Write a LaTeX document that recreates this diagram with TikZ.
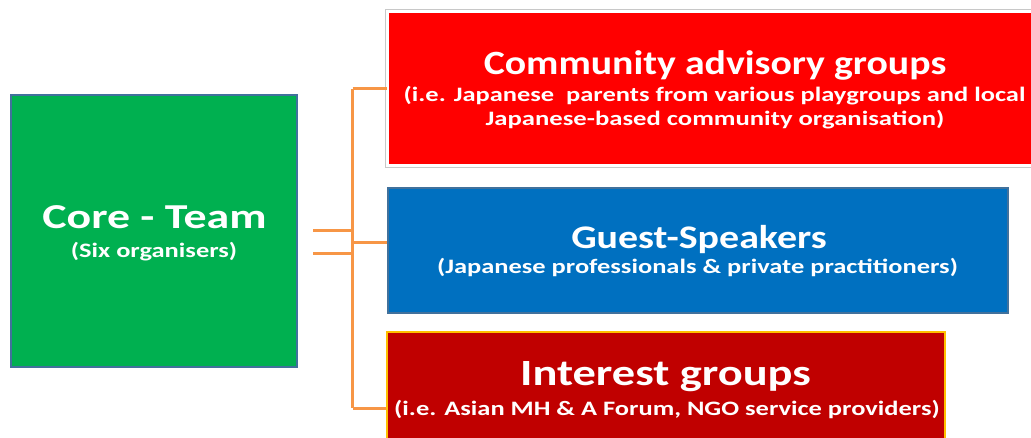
\documentclass[tikz,border=0pt]{standalone}
\usepackage{fontspec}
\setmainfont{Carlito}
\definecolor{coregreen}{HTML}{00B050}
\definecolor{slateedge}{HTML}{41719C}
\definecolor{advred}{HTML}{FF0000}
\definecolor{guestblue}{HTML}{0070C0}
\definecolor{intred}{HTML}{C00000}
\definecolor{intedge}{HTML}{FFC000}
\definecolor{linkorange}{HTML}{F79646}
\definecolor{outline}{HTML}{C8C8C8}
\tikzset{
  box/.style={rectangle, inner sep=0pt, line width=2pt},
  lbl/.style={inner sep=0pt, anchor=base, text=white, font=\bfseries},
  link/.style={draw=linkorange, line width=3pt}
}
\newcommand{\wtxt}[3]{\scalebox{#2}[1]{\fontsize{#1}{#1}\selectfont #3}}
\begin{document}
\begin{tikzpicture}[x=1pt,y=-1pt]
\useasboundingbox (0,0) rectangle (1031,438);
\fill[white] (0,0) rectangle (1031,438);
% core team
\node[box, fill=coregreen, draw=slateedge, minimum width=286pt, minimum height=272pt] (core) at (154,231) {};
\node[lbl] (coreA) at (154.5,228.8) {\wtxt{35}{1.31}{Core - Team}};
\node[lbl] (coreB) at (154,257.8) {\wtxt{20.5}{1.29}{(Six organisers)}};
% community advisory
\node[box, fill=advred, draw=white, line width=1.5pt, minimum width=652pt, minimum height=153pt] (adv) at (714,88.5) {};
\draw[outline, line width=0.8pt] ([xshift=-1.8pt,yshift=1.8pt]adv.north west) rectangle ([xshift=1.8pt,yshift=-1.8pt]adv.south east);
\node[lbl] (advA) at (715,75) {\wtxt{34}{1.17}{Community advisory groups}};
\node[lbl] (advB) at (714.5,101.5) {\wtxt{20.5}{1.29}{(i.e. Japanese\ \ parents from various playgroups and local}};
\node[lbl] (advC) at (715,125.8) {\wtxt{20.5}{1.30}{Japanese-based community organisation)}};
% guest speakers
\node[box, fill=guestblue, draw=slateedge, minimum width=620pt, minimum height=125pt] (guest) at (698,250.5) {};
\node[lbl] (guestA) at (699,249) {\wtxt{33}{1.21}{Guest-Speakers}};
\node[lbl] (guestB) at (697.5,274) {\wtxt{20.5}{1.29}{(Japanese professionals \& private practitioners)}};
% interest groups
\node[box, fill=intred, draw=intedge, minimum width=558pt, minimum height=112pt] (inter) at (666,388) {};
\node[lbl] (interA) at (665.5,385.8) {\wtxt{37}{1.255}{Interest groups}};
\node[lbl] (interB) at (667,415.8) {\wtxt{20.5}{1.29}{(i.e. Asian MH \& A Forum, NGO service providers)}};
% connectors
\coordinate (j1) at (352.5,89);
\coordinate (j2) at (352.5,243);
\coordinate (j3) at (352.5,408);
\coordinate (s1) at (313,231);
\coordinate (s2) at (313,254);
\draw[link] (j1) -- (j3);
\draw[link] (j1) -- (adv.west |- j1);
\draw[link] (j2) -- (guest.west |- j2);
\draw[link] (j3) -- (inter.west |- j3);
\draw[link] (s1) -- (s1 -| j1);
\draw[link] (s2) -- (s2 -| j1);
\end{tikzpicture}
\end{document}
